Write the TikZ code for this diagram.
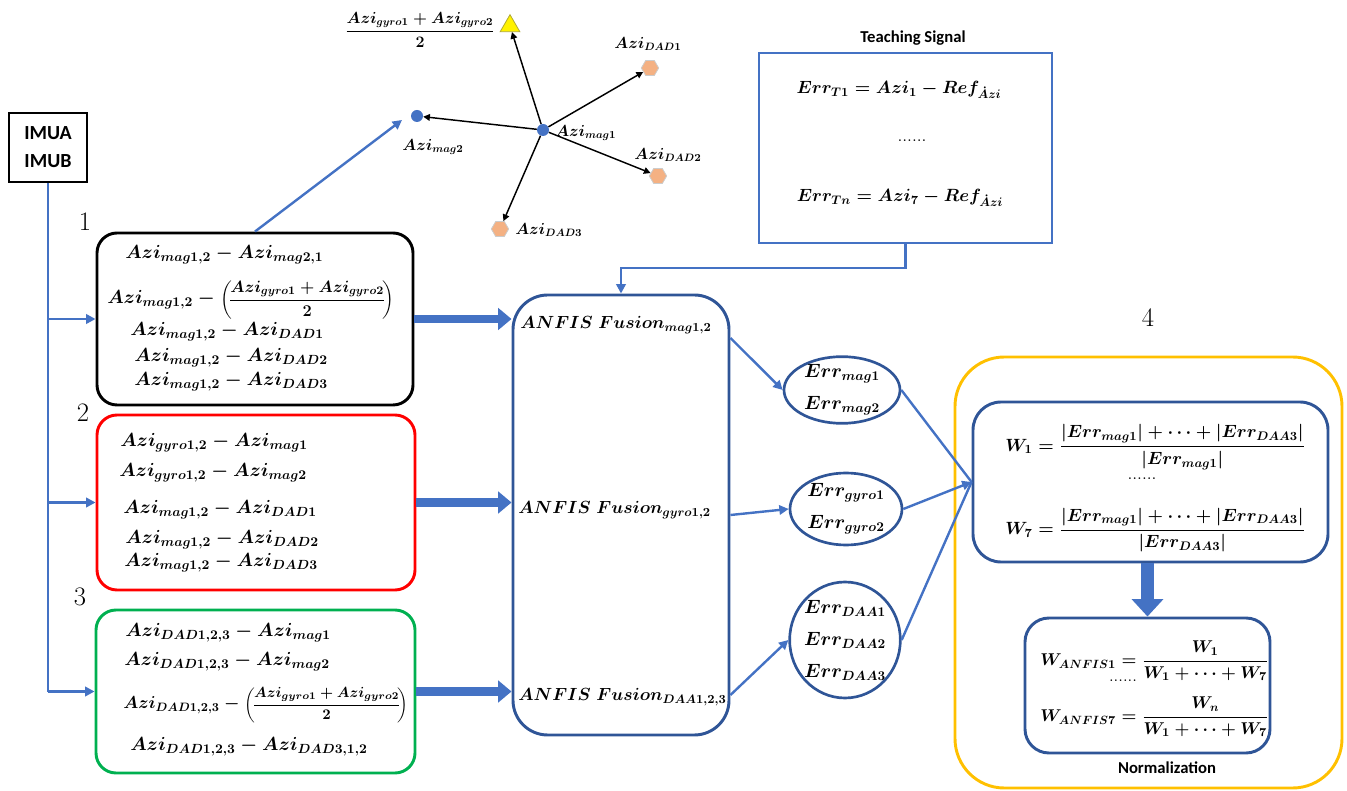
\RequirePackage{fix-cm}
\documentclass[tikz,border=0pt]{standalone}
\usepackage{amsmath}
\usepackage{fontspec}
\newfontfamily\carl{Carlito}
\usetikzlibrary{shapes.geometric,arrows.meta,fit,calc}
\definecolor{lineblue}{HTML}{4472C4}
\definecolor{boxblue}{HTML}{2F5597}
\definecolor{boxgreen}{HTML}{00B050}
\definecolor{boxgold}{HTML}{FFC000}
\definecolor{hexfill}{HTML}{F4B183}
\newcommand\eqfont{\fontsize{14.2}{17}\selectfont\boldmath}
\newcommand\eqpre{\fontsize{13}{16}\selectfont\boldmath}
\newcommand\eqfrac{\fontsize{12.3}{15}\selectfont\boldmath}
\newcommand\eqfracg{\fontsize{11}{14}\selectfont\boldmath}
\newcommand\eqbig{\fontsize{14.4}{24}\selectfont\boldmath}
\newcommand\eqanf{\fontsize{13.2}{16}\selectfont\boldmath}
\newcommand\eqteach{\fontsize{13.3}{16}\selectfont\boldmath}
\newcommand\eqwt{\fontsize{13.3}{16}\selectfont\boldmath}
\newcommand\eqnm{\fontsize{12.8}{16}\selectfont\boldmath}
\newcommand\eqsmall{\fontsize{12}{14}\selectfont\boldmath}
\newcommand\numfont{\fontsize{20}{22}\selectfont}
\begin{document}
\begin{tikzpicture}[x=0.75pt,y=-0.75pt,
  conn/.style={draw=lineblue, line width=1.8pt},
  arr/.style={-{Triangle[length=7pt,width=7pt]}},
  fat/.style={draw=lineblue, line width=6.5pt, -{Triangle[length=10pt,width=16pt]}},
  rbox/.style={draw, line width=2.2pt, rounded corners=15pt, inner sep=0pt},
  bluebox/.style={draw=boxblue, line width=2.2pt, inner sep=0pt},
  eq/.style={font=\eqfont, inner sep=0pt},
  eqp/.style={font=\eqpre, inner sep=0pt},
  eqf/.style={font=\eqfrac, inner sep=0pt, anchor=west},
  eqg/.style={font=\eqfracg, inner sep=0pt, anchor=west},
  eqb/.style={font=\eqbig, inner sep=0pt, align=center},
  eqa/.style={font=\eqanf, inner sep=0pt},
  eqt/.style={font=\eqteach, inner sep=0pt},
  eqw/.style={font=\eqwt, inner sep=0pt},
  eqn/.style={font=\eqnm, inner sep=0pt},
  eqs/.style={font=\eqsmall, inner sep=0pt},
  num/.style={font=\numfont, inner sep=0pt},
  title/.style={font=\carl\bfseries\fontsize{12.5}{14}\selectfont, inner sep=0pt},
  errell/.style={ellipse, draw=boxblue, line width=2pt, inner sep=0pt},
  hex/.style={regular polygon, regular polygon sides=6, fill=hexfill, draw=gray!40, line width=0.6pt, minimum size=13pt, inner sep=0pt},
  dot/.style={circle, fill=lineblue, minimum size=9pt, inner sep=0pt},
  spoke/.style={draw=black, line width=1.1pt, -{Triangle[length=5pt,width=5pt]}},
]
\useasboundingbox (0,0) rectangle (1347,791);

% ---- inputs ----
\node[draw, line width=1.6pt, fit={(9,113) (87,182)}, inner sep=0pt] (imu) {};
\node[font=\carl\bfseries\fontsize{15}{21}\selectfont, align=center, inner sep=0pt] at (imu.center) {IMUA\\IMUB};

% ---- branch boxes ----
\node[rbox, draw=black, fit={(97,233) (413,405)}] (blk) {};
\node[rbox, draw=red, fit={(97,415) (415,590)}] (red) {};
\node[rbox, draw=boxgreen, fit={(96,610) (415,773)}] (grn) {};

\node[num] at (85,222) {1};
\node[num] at (83,413) {2};
\node[num] at (80,597) {3};
\node[num] at (1148,318) {4};

\node[eq, anchor=west] at (125,255) {$Azi_{mag1,2}-Azi_{mag2,1}$};
\node[eq, anchor=west] (b2) at (107,300) {$Azi_{mag1,2}-{}$};
\node[eqf] at (b2.east) {$\displaystyle\left(\!\frac{Azi_{gyro1}+Azi_{gyro2}}{2}\!\right)$};
\node[eq, anchor=west] at (130,332) {$Azi_{mag1,2}-Azi_{DAD1}$};
\node[eq, anchor=west] at (134,358) {$Azi_{mag1,2}-Azi_{DAD2}$};
\node[eq, anchor=west] at (134,382) {$Azi_{mag1,2}-Azi_{DAD3}$};

\node[eq, anchor=west] at (120,443) {$Azi_{gyro1,2}-Azi_{mag1}$};
\node[eq, anchor=west] at (119,473) {$Azi_{gyro1,2}-Azi_{mag2}$};
\node[eq, anchor=west] at (123,510) {$Azi_{mag1,2}-Azi_{DAD1}$};
\node[eq, anchor=west] at (125,540) {$Azi_{mag1,2}-Azi_{DAD2}$};
\node[eq, anchor=west] at (124,563) {$Azi_{mag1,2}-Azi_{DAD3}$};

\node[eq, anchor=west] at (125,633) {$Azi_{DAD1,2,3}-Azi_{mag1}$};
\node[eq, anchor=west] at (124,662) {$Azi_{DAD1,2,3}-Azi_{mag2}$};
\node[eqp, anchor=west] (g3) at (123,705) {$Azi_{DAD1,2,3}-{}$};
\node[eqg] at (g3.east) {$\displaystyle\left(\!\frac{Azi_{gyro1}+Azi_{gyro2}}{2}\!\right)$};
\node[eq, anchor=west] at (130,747) {$Azi_{DAD1,2,3}-Azi_{DAD3,1,2}$};

% input feed lines
\draw[conn] (imu.south) -- (imu.south |- grn.west);
\draw[conn, arr] (imu.south |- blk.west) -- (blk.west);
\draw[conn, arr] (imu.south |- red.west) -- (red.west);
\draw[conn, arr] (imu.south |- grn.west) -- (grn.west);

% ---- azimuth star ----
\node[dot] (c) at (543,130) {};
\node[dot] (m2) at (417,116) {};
\node[regular polygon, regular polygon sides=3, fill=yellow, draw=olive!70, line width=0.6pt, minimum size=17pt, inner sep=0pt] (tri) at (510,26) {};
\node[hex] (h1) at (650,68) {};
\node[hex] (h2) at (658,176) {};
\node[hex] (h3) at (500,229) {};
\draw[spoke] (c) -- (tri);
\draw[spoke] (c) -- (m2);
\draw[spoke] (c) -- (h1);
\draw[spoke] (c) -- (h2);
\draw[spoke] (c) -- (h3);
\node[eqs, anchor=west] at (555,133) {$Azi_{mag1}$};
\node[eqs] at (433,147) {$Azi_{mag2}$};
\node[eqs] at (420,30) {$\displaystyle\frac{Azi_{gyro1}+Azi_{gyro2}}{2}$};
\node[eqs] at (648,44) {$Azi_{DAD1}$};
\node[eqs] at (668,155) {$Azi_{DAD2}$};
\node[eqs, anchor=west] at (515,230) {$Azi_{DAD3}$};
\coordinate (m2in) at (402,120);
\draw[conn, arr] (blk.north) -- (m2in);

% ---- teaching signal ----
\node[draw=lineblue, line width=2.2pt, fit={(759,53) (1052,243)}, inner sep=0pt] (teach) {};
\node[title] at (913,38) {Teaching Signal};
\node[eqt] at (899,90) {$Err_{T1}=Azi_1-Ref_{\dot{A}zi}$};
\node[eqt] at (912,141) {......};
\node[eqt] at (900,198) {$Err_{Tn}=Azi_7-Ref_{\dot{A}zi}$};

% ---- ANFIS block ----
\node[bluebox, rounded corners=26pt, fit={(513,295) (729,735)}] (anf) {};
\node[eqa, anchor=west] at (520,325) {$ANFIS\ Fusion_{mag1,2}$};
\node[eqa, anchor=west] at (518,510) {$ANFIS\ Fusion_{gyro1,2}$};
\node[eqa, anchor=west] at (518,697) {$ANFIS\ Fusion_{DAA1,2,3}$};
\draw[conn, arr] (teach.south) -- (teach.south |- 0,268) -| (anf.north);

\draw[fat] (blk.east) -- (blk.east -| anf.west);
\draw[fat] (red.east) -- (red.east -| anf.west);
\draw[fat] (grn.east) -- (grn.east -| anf.west);

% ---- error ellipses ----
\node[errell, minimum width=87pt, minimum height=50pt] (e1) at (842,390) {};
\node[errell, minimum width=84pt, minimum height=54pt] (e2) at (846,509) {};
\node[errell, minimum width=83pt, minimum height=87pt] (e3) at (845,640) {};
\node[eqb] at (e1) {$Err_{mag1}$\\$Err_{mag2}$};
\node[eqb] at (e2) {$Err_{gyro1}$\\$Err_{gyro2}$};
\node[eqb] at (e3) {$Err_{DAA1}$\\$Err_{DAA2}$\\$Err_{DAA3}$};
\draw[conn, arr] ($(anf.east)+(0,-177)$) -- (e1.west);
\draw[conn, arr] (anf.east) -- (e2.west);
\draw[conn, arr] ($(anf.east)+(0,180)$) -- (e3.west);

% ---- weighting and normalization ----
\node[draw=boxgold, line width=2.2pt, rounded corners=37pt, fit={(955,357) (1342,788)}, inner sep=0pt] (gold) {};
\node[bluebox, rounded corners=21pt, fit={(973,402) (1328,562)}] (wbox) {};
\node[bluebox, rounded corners=18pt, fit={(1025,618) (1270,753)}] (nbox) {};
\draw[conn] (e1.east) -- (wbox.west);
\draw[conn, arr] (e2.east) -- (wbox.west);
\draw[conn] (e3.east) -- (wbox.west);
\draw[draw=lineblue, line width=10pt, -{Triangle[length=13pt,width=23pt]}] (nbox.north |- wbox.south) -- (nbox.north);

\node[eqw, anchor=west] at (1005,447) {$\displaystyle W_1=\frac{\left|Err_{mag1}\right|+\cdots+\left|Err_{DAA3}\right|}{\left|Err_{mag1}\right|}$};
\node[eqw] at (1142,479) {......};
\node[eqw, anchor=west] at (1005,530) {$\displaystyle W_7=\frac{\left|Err_{mag1}\right|+\cdots+\left|Err_{DAA3}\right|}{\left|Err_{DAA3}\right|}$};

\node[eqn, anchor=west] at (1040,661) {$\displaystyle W_{ANFIS1}=\frac{W_1}{W_1+\cdots+W_7}$};
\node[eqn] at (1123,681) {......};
\node[eqn, anchor=west] at (1040,717) {$\displaystyle W_{ANFIS7}=\frac{W_n}{W_1+\cdots+W_7}$};
\node[title] at (1167,768) {Normalization};
\end{tikzpicture}
\end{document}
